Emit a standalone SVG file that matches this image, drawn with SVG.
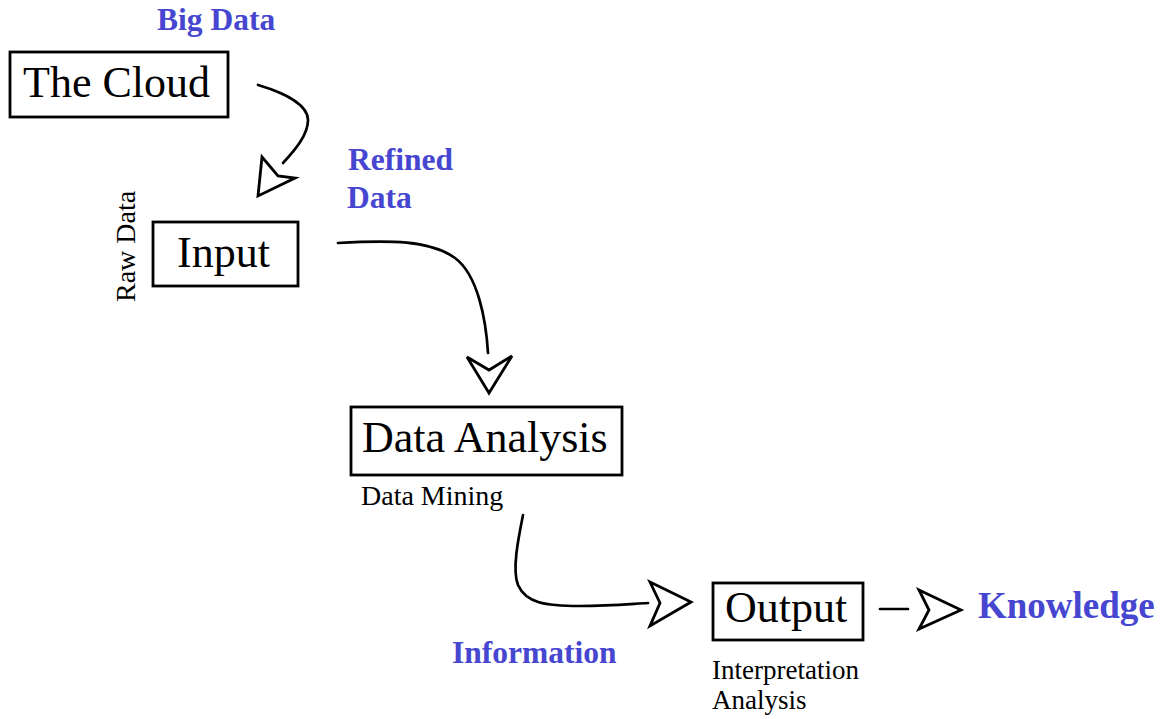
<svg xmlns="http://www.w3.org/2000/svg" width="1162" height="719" viewBox="0 0 1162 719">
  <style>
    .box { fill: #ffffff; stroke: #000000; stroke-width: 2.8; }
    .title { font-family: "Liberation Serif", "Times New Roman", serif; font-size: 44px; fill: #000000; }
    .note { font-family: "Liberation Serif", "Times New Roman", serif; font-size: 28px; fill: #000000; }
    .flow { font-family: "Liberation Serif", "Times New Roman", serif; font-size: 31.5px; font-weight: bold; fill: #4646d0; }
    .wire { fill: none; stroke: #000000; stroke-width: 2.7; stroke-linecap: round; }
    .head { fill: #ffffff; stroke: #000000; stroke-width: 2.8; stroke-linejoin: miter; }
  </style>
  <rect width="1162" height="719" fill="#ffffff"/>

  <!-- connectors -->
  <g id="connectors">
    <path class="wire" d="M258,85 C285,93 308,105 308,120 C308,135 295,150 283,163"/>
    <polygon class="head" points="258,196 262,157 278,176 295,178"/>

    <path class="wire" d="M338,243 C390,240 430,240 455,258 C478,275 486,320 488,353"/>
    <polygon class="head" points="489,393 467,357 489,370 512,356"/>

    <path class="wire" d="M523,515 C518,540 512,570 518,585 C526,603 545,606 580,606 C610,606 630,604 648,603"/>
    <polygon class="head" points="691,602 650,582 660,603 650,626"/>

    <path class="wire" d="M880,609 L908,609"/>
    <polygon class="head" points="961,610 919,590 929,610 919,629"/>
  </g>

  <!-- nodes -->
  <g id="node-cloud">
    <rect class="box" x="10" y="52" width="218" height="65"/>
    <text class="title" x="23" y="97">The Cloud</text>
  </g>
  <g id="node-input">
    <rect class="box" x="153" y="222" width="145" height="64"/>
    <text class="title" x="177" y="267">Input</text>
  </g>
  <g id="node-analysis">
    <rect class="box" x="351" y="407" width="271" height="68"/>
    <text class="title" x="362" y="452">Data Analysis</text>
  </g>
  <g id="node-output">
    <rect class="box" x="713" y="583" width="150" height="57"/>
    <text class="title" x="725" y="622">Output</text>
  </g>

  <!-- labels -->
  <g id="labels">
    <text class="flow" x="157" y="30">Big Data</text>
    <text class="flow" x="348" y="170">Refined</text>
    <text class="flow" x="347" y="208">Data</text>
    <text class="flow" x="452" y="663">Information</text>
    <text class="flow" x="978" y="618" style="font-size:37px">Knowledge</text>
    <text class="note" transform="translate(135,302) rotate(-90)">Raw Data</text>
    <text class="note" x="361" y="505">Data Mining</text>
    <text class="note" x="712" y="679" style="font-size:27px">Interpretation</text>
    <text class="note" x="712" y="709" style="font-size:27px">Analysis</text>
  </g>
</svg>
